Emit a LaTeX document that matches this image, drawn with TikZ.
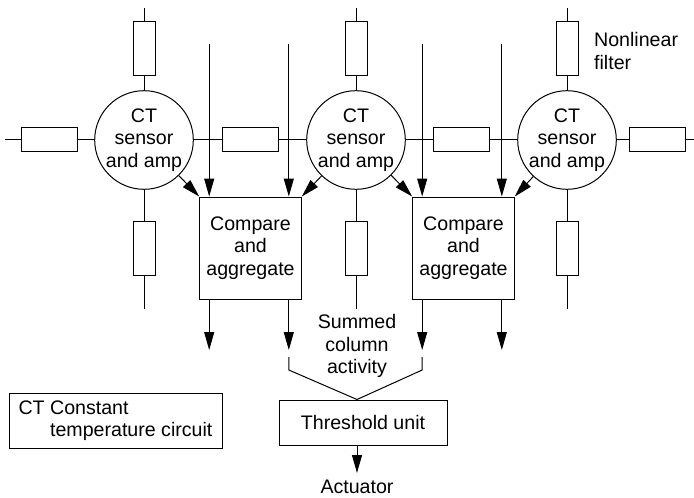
\documentclass[tikz,border=0pt]{standalone}
\usepackage{fontspec}
\setmainfont{Liberation Sans}
\usetikzlibrary{arrows.meta}
\usetikzlibrary{positioning}

\begin{document}
\begin{tikzpicture}[x=0.5pt,y=-0.5pt,line width=0.5pt,
  font=\fontsize{9.8}{11.3}\selectfont,
  sensor/.style={draw,circle,minimum size=49pt,inner sep=0pt,align=center},
  hres/.style={draw,rectangle,minimum width=28pt,minimum height=12pt,inner sep=0pt},
  vres/.style={draw,rectangle,minimum width=11pt,minimum height=27pt,inner sep=0pt},
  cmpbox/.style={draw,rectangle,minimum width=50.5pt,minimum height=51pt,align=center},
  arr/.style={-{Triangle[length=9pt,width=5pt]}}]
  \useasboundingbox (0,0) rectangle (694,497);

  % sensors with their filters above and below
  \foreach \n/\x in {1/144, 2/356, 3/567} {
    \node[sensor] (c\n) at (\x,140) {CT\\sensor\\and amp};
    \node[vres] (t\n) at (\x,49) {};
    \node[vres] (b\n) at (\x,248) {};
    \coordinate (te\n) at (\x,8);
    \coordinate (be\n) at (\x,309);
    \draw (te\n) -- (t\n) -- (c\n) -- (b\n) -- (be\n);
  }

  % filters along the row
  \node[hres] (r0) at (49,140) {};
  \node[hres] (r1) at (250,140) {};
  \node[hres] (r2) at (461,140) {};
  \node[hres] (r3) at (657,140) {};
  \coordinate (le) at (5,140);
  \coordinate (re) at (694,140);
  \draw (le) -- (r0) -- (c1) -- (r1) -- (c2) -- (r2) -- (c3) -- (r3) -- (re);

  \node[align=left,anchor=west] (nlf) at (587,51) {Nonlinear\\filter};

  % compare and aggregate
  \node[cmpbox] (a1) at (250.5,248) {Compare\\and\\aggregate};
  \node[cmpbox] (a2) at (463.5,248) {Compare\\and\\aggregate};

  \foreach \b in {1,2} {
    \coordinate (il\b) at ([xshift=5pt]a\b.north west);
    \coordinate (ir\b) at ([xshift=-6.5pt]a\b.north east);
    \draw[arr] (il\b |- 0,44) -- (il\b);
    \draw[arr] (ir\b |- 0,44) -- (ir\b);
    \draw[arr] (il\b |- a\b.south) -- (il\b |- 0,350);
    \draw[arr] (ir\b |- a\b.south) -- (ir\b |- 0,350);
  }

  \draw[arr] (c1) -- (a1.north west);
  \draw[arr] (c2) -- (a1.north east);
  \draw[arr] (c2) -- (a2.north west);
  \draw[arr] (c3) -- (a2.north east);

  % threshold
  \node[align=center] (sum) at (357,346) {Summed\\column\\activity};
  \node[draw,minimum width=84pt,minimum height=22.5pt] (thr) at (363,422.5) {Threshold unit};
  \node (act) at (357,487) {Actuator};
  \draw (ir1 |- 0,357) -- (ir1 |- 0,370) -- (act |- thr.north)
    -- (il2 |- 0,370) -- (il2 |- 0,357);
  \draw[arr] (act |- thr.south) -- (act);

  \node[draw,align=left,minimum width=106.5pt,minimum height=27.5pt] (leg) at (115.5,420.5)
    {CT Constant\\\hphantom{CT} temperature circuit};
\end{tikzpicture}
\end{document}
